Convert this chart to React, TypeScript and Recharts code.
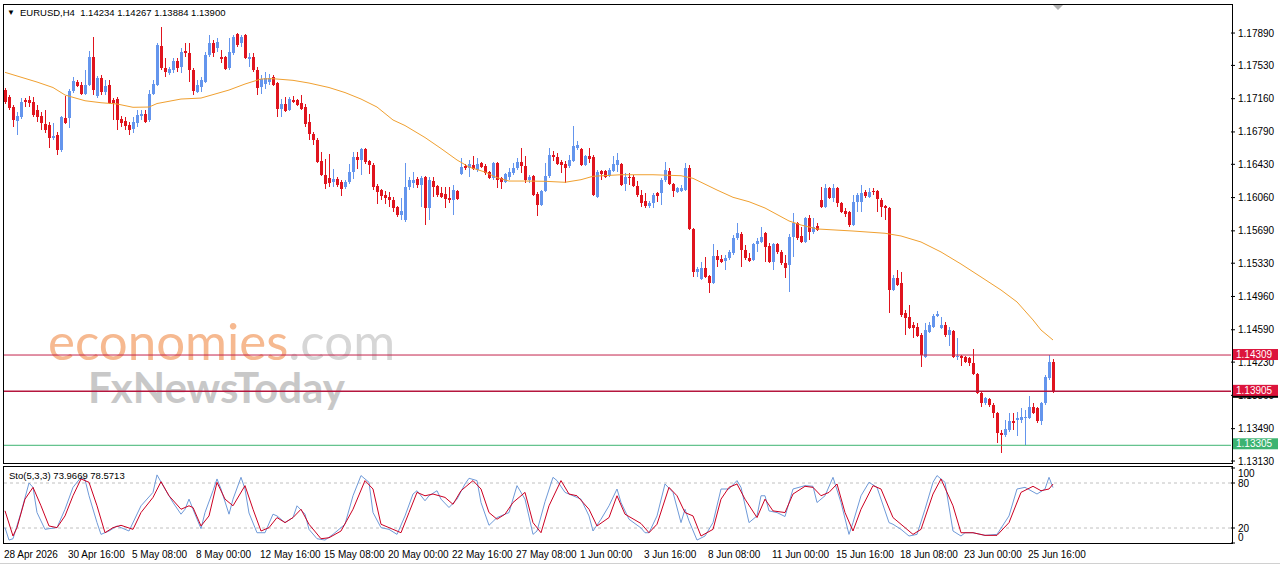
import React from 'react';
import { ComposedChart, Bar, Line, XAxis, YAxis, ReferenceLine } from 'recharts';

const FONT = '"Liberation Sans", Arial, sans-serif';
const BULL = '#6495ED';
const BEAR = '#E0141E';

// EURUSD H4 bars: [open, high, low, close]
const candles: number[][] = [
  [1.17257, 1.17279, 1.17101, 1.17124], [1.17179, 1.17201, 1.17035, 1.17057], [1.17068, 1.1709, 1.16846, 1.16924],
  [1.16913, 1.17013, 1.16757, 1.16968], [1.16957, 1.17168, 1.16935, 1.17124], [1.17146, 1.17168, 1.17068, 1.17124],
  [1.17146, 1.1719, 1.17068, 1.17113], [1.17124, 1.17179, 1.16957, 1.16979], [1.17035, 1.1709, 1.16901, 1.16957],
  [1.16968, 1.17013, 1.16813, 1.1689], [1.16879, 1.17035, 1.16779, 1.16813], [1.16868, 1.16901, 1.16613, 1.16724],
  [1.16724, 1.1689, 1.16701, 1.16746], [1.16757, 1.1679, 1.16535, 1.1659], [1.1659, 1.16968, 1.16568, 1.16957],
  [1.16946, 1.1719, 1.16879, 1.1689], [1.16946, 1.17268, 1.16835, 1.17246], [1.17246, 1.17401, 1.17224, 1.17357],
  [1.17346, 1.17368, 1.1729, 1.17301], [1.17313, 1.17346, 1.17201, 1.17213], [1.17213, 1.17479, 1.17201, 1.17313],
  [1.17313, 1.1769, 1.17301, 1.17624], [1.17624, 1.17846, 1.17201, 1.17257], [1.1719, 1.17413, 1.17168, 1.1739],
  [1.1739, 1.17424, 1.17201, 1.17235], [1.17235, 1.17368, 1.17201, 1.17301], [1.17313, 1.17368, 1.17101, 1.17113],
  [1.17146, 1.17168, 1.16924, 1.17113], [1.17157, 1.17179, 1.16813, 1.16924], [1.16935, 1.16968, 1.16846, 1.1689],
  [1.16913, 1.16957, 1.16813, 1.16857], [1.16868, 1.16901, 1.16757, 1.16813], [1.16824, 1.16957, 1.16779, 1.16901],
  [1.1689, 1.17035, 1.16846, 1.16979], [1.16968, 1.17035, 1.16924, 1.1699], [1.1699, 1.17035, 1.1689, 1.16901],
  [1.16924, 1.17257, 1.16901, 1.17213], [1.17213, 1.17368, 1.17201, 1.17324], [1.17313, 1.17779, 1.17301, 1.17757],
  [1.17746, 1.17957, 1.17479, 1.17501], [1.17501, 1.17613, 1.17401, 1.17457], [1.17446, 1.17513, 1.17424, 1.1749],
  [1.17479, 1.17613, 1.17446, 1.17579], [1.17579, 1.17613, 1.17457, 1.17501], [1.17513, 1.17724, 1.17446, 1.17679],
  [1.1769, 1.17779, 1.17624, 1.17668], [1.17668, 1.17779, 1.17346, 1.17479], [1.17479, 1.17501, 1.17201, 1.17246],
  [1.17235, 1.17368, 1.17224, 1.17313], [1.1729, 1.17401, 1.17235, 1.17368], [1.17346, 1.17679, 1.17335, 1.17646],
  [1.17646, 1.17868, 1.17624, 1.17779], [1.17779, 1.17813, 1.17624, 1.17668], [1.17724, 1.17835, 1.17679, 1.1779],
  [1.17624, 1.17701, 1.17557, 1.17601], [1.17624, 1.17635, 1.17479, 1.1749], [1.17501, 1.17835, 1.17479, 1.17679],
  [1.17668, 1.17868, 1.17646, 1.17846], [1.17879, 1.1789, 1.17735, 1.17757], [1.17779, 1.17868, 1.17735, 1.17846],
  [1.17868, 1.17879, 1.17601, 1.17613], [1.17601, 1.17668, 1.17513, 1.17624], [1.17624, 1.17668, 1.17457, 1.17479],
  [1.17479, 1.17513, 1.17201, 1.17279], [1.1729, 1.17424, 1.17213, 1.17379], [1.17324, 1.17457, 1.17268, 1.1739],
  [1.17346, 1.17435, 1.17313, 1.1739], [1.17401, 1.17424, 1.17301, 1.17313], [1.17335, 1.17346, 1.16957, 1.17046],
  [1.17046, 1.17157, 1.16957, 1.17101], [1.17101, 1.17179, 1.17013, 1.17024], [1.17035, 1.17179, 1.17024, 1.17157],
  [1.17146, 1.1719, 1.17113, 1.17124], [1.17146, 1.17157, 1.17079, 1.1709], [1.17113, 1.17201, 1.17035, 1.17046],
  [1.17068, 1.17101, 1.16846, 1.16879], [1.16901, 1.1699, 1.16701, 1.16768], [1.16768, 1.1679, 1.16646, 1.16701],
  [1.16701, 1.16724, 1.16446, 1.16457], [1.16468, 1.16568, 1.16301, 1.16313], [1.16313, 1.1649, 1.16157, 1.16213],
  [1.16279, 1.16546, 1.16179, 1.16224], [1.16235, 1.16379, 1.16179, 1.16268], [1.16268, 1.1629, 1.16179, 1.16201],
  [1.16235, 1.16257, 1.16079, 1.16157], [1.16179, 1.16257, 1.16157, 1.16235], [1.16235, 1.16435, 1.16213, 1.16346],
  [1.16346, 1.16568, 1.16268, 1.16513], [1.16513, 1.16568, 1.16379, 1.16479], [1.16479, 1.16613, 1.16313, 1.16601],
  [1.16601, 1.16613, 1.16435, 1.16457], [1.16468, 1.16479, 1.16324, 1.16424], [1.16424, 1.16446, 1.16146, 1.16179],
  [1.1619, 1.16213, 1.1599, 1.16124], [1.16146, 1.16157, 1.16035, 1.16079], [1.1609, 1.16135, 1.1599, 1.16057],
  [1.16068, 1.16124, 1.15957, 1.16035], [1.16035, 1.16068, 1.15901, 1.15946], [1.15957, 1.15968, 1.15846, 1.15868],
  [1.15868, 1.16057, 1.15813, 1.15913], [1.15813, 1.16446, 1.1579, 1.16179], [1.16179, 1.1629, 1.16146, 1.16257],
  [1.16224, 1.16346, 1.16168, 1.16257], [1.16268, 1.1629, 1.16168, 1.16201], [1.16201, 1.16301, 1.15957, 1.16279],
  [1.1629, 1.16301, 1.15757, 1.15946], [1.15946, 1.1629, 1.15813, 1.16257], [1.16246, 1.1629, 1.16068, 1.16179],
  [1.1619, 1.16201, 1.16068, 1.1609], [1.16113, 1.16179, 1.16057, 1.16068], [1.16101, 1.16179, 1.15946, 1.16046],
  [1.16057, 1.16179, 1.16001, 1.16035], [1.16035, 1.16201, 1.15868, 1.16146], [1.16135, 1.16146, 1.16035, 1.16046],
  [1.16324, 1.16501, 1.16313, 1.16401], [1.16413, 1.16435, 1.16368, 1.1639], [1.1639, 1.16479, 1.1629, 1.16435],
  [1.16424, 1.16524, 1.16368, 1.16379], [1.16368, 1.16501, 1.16346, 1.16435], [1.16446, 1.16457, 1.1639, 1.16401],
  [1.16413, 1.16435, 1.16313, 1.16335], [1.16346, 1.16357, 1.16268, 1.16279], [1.16279, 1.16457, 1.16257, 1.16446],
  [1.16446, 1.16457, 1.16168, 1.16257], [1.16279, 1.1629, 1.16157, 1.16235], [1.16235, 1.16335, 1.16224, 1.16324],
  [1.1629, 1.1639, 1.16257, 1.16346], [1.16335, 1.16446, 1.16313, 1.1639], [1.1639, 1.16501, 1.16368, 1.16457],
  [1.16457, 1.16613, 1.16335, 1.16413], [1.16413, 1.16524, 1.16224, 1.16257], [1.16257, 1.16313, 1.16224, 1.1629],
  [1.16301, 1.16313, 1.16079, 1.1609], [1.16101, 1.16124, 1.15857, 1.15979], [1.15979, 1.16146, 1.15968, 1.16135],
  [1.16135, 1.16446, 1.16124, 1.16301], [1.16301, 1.16613, 1.16279, 1.16535], [1.16535, 1.16579, 1.16468, 1.16513],
  [1.16513, 1.16557, 1.16424, 1.16435], [1.16457, 1.16479, 1.16335, 1.16424], [1.16435, 1.16468, 1.16224, 1.1639],
  [1.16413, 1.16535, 1.1639, 1.16479], [1.16468, 1.16857, 1.16457, 1.16635], [1.16613, 1.1669, 1.1659, 1.16646],
  [1.16601, 1.16613, 1.16413, 1.16424], [1.16424, 1.16535, 1.16413, 1.16524], [1.16524, 1.16613, 1.16446, 1.1649],
  [1.16513, 1.16535, 1.16079, 1.1609], [1.16068, 1.16368, 1.16057, 1.16346], [1.16357, 1.16368, 1.16257, 1.16324],
  [1.16357, 1.16368, 1.16279, 1.1629], [1.16301, 1.1639, 1.1629, 1.16368], [1.16357, 1.16524, 1.16346, 1.16435],
  [1.16424, 1.16557, 1.16346, 1.16479], [1.16435, 1.16446, 1.1619, 1.16201], [1.16213, 1.16335, 1.16135, 1.1629],
  [1.1629, 1.16335, 1.16201, 1.16279], [1.1629, 1.16313, 1.16179, 1.1619], [1.1619, 1.16246, 1.16068, 1.1609],
  [1.1609, 1.16146, 1.15957, 1.16002], [1.16024, 1.16113, 1.15946, 1.15968], [1.15968, 1.16024, 1.15946, 1.16002],
  [1.16002, 1.16113, 1.15946, 1.1609], [1.16113, 1.16124, 1.16013, 1.16079], [1.16113, 1.16279, 1.15979, 1.16257],
  [1.16257, 1.16457, 1.16235, 1.16368], [1.16357, 1.1639, 1.16201, 1.16213], [1.16213, 1.16224, 1.16068, 1.16135],
  [1.16124, 1.16179, 1.16113, 1.16168], [1.16135, 1.16201, 1.16124, 1.16168], [1.16146, 1.16446, 1.16135, 1.1639],
  [1.1639, 1.16424, 1.15701, 1.15713], [1.15713, 1.15724, 1.15179, 1.15235], [1.15235, 1.1529, 1.15179, 1.15268],
  [1.15157, 1.15346, 1.15146, 1.15279], [1.15279, 1.15401, 1.15168, 1.15179], [1.1519, 1.15201, 1.15001, 1.15113],
  [1.15113, 1.15546, 1.15101, 1.15413], [1.15413, 1.15479, 1.1529, 1.15368], [1.15379, 1.15424, 1.15335, 1.15346],
  [1.15357, 1.15424, 1.15257, 1.1539], [1.1539, 1.15479, 1.15368, 1.15457], [1.15446, 1.15646, 1.15424, 1.15613],
  [1.15613, 1.15779, 1.1559, 1.15668], [1.15657, 1.15679, 1.1529, 1.15479], [1.15479, 1.15535, 1.15368, 1.1539],
  [1.1539, 1.15446, 1.15346, 1.15357], [1.15368, 1.15557, 1.15357, 1.15546], [1.15546, 1.15613, 1.15457, 1.15579],
  [1.15568, 1.15735, 1.15557, 1.15624], [1.15668, 1.15679, 1.15346, 1.15513], [1.15524, 1.15557, 1.15335, 1.15346],
  [1.15346, 1.15557, 1.15257, 1.15546], [1.15546, 1.15557, 1.15435, 1.15457], [1.15457, 1.15479, 1.15313, 1.15335],
  [1.15335, 1.15424, 1.15168, 1.15279], [1.15313, 1.15657, 1.15013, 1.15624], [1.15624, 1.1589, 1.15401, 1.15779],
  [1.15779, 1.1579, 1.1559, 1.15613], [1.15635, 1.15735, 1.15557, 1.15568], [1.15568, 1.15846, 1.15557, 1.15835],
  [1.15835, 1.15868, 1.1559, 1.15679], [1.15679, 1.15835, 1.15657, 1.15735], [1.15746, 1.15779, 1.1569, 1.15701],
  [1.16035, 1.16179, 1.15946, 1.15957], [1.15957, 1.16213, 1.15946, 1.16168], [1.16168, 1.16179, 1.16046, 1.16057],
  [1.16057, 1.16213, 1.16013, 1.16168], [1.16168, 1.16179, 1.15957, 1.16002], [1.16002, 1.16013, 1.1589, 1.15901],
  [1.15913, 1.15946, 1.15846, 1.15879], [1.15901, 1.15913, 1.15735, 1.15757], [1.15757, 1.1609, 1.15746, 1.16013],
  [1.16013, 1.16113, 1.15901, 1.1609], [1.16013, 1.16201, 1.15901, 1.16113], [1.16124, 1.16146, 1.16057, 1.16079],
  [1.16068, 1.16168, 1.16057, 1.16124], [1.16135, 1.16168, 1.1609, 1.16124], [1.16135, 1.16146, 1.15901, 1.16046],
  [1.16035, 1.16057, 1.15846, 1.15957], [1.15968, 1.15979, 1.15813, 1.15946], [1.15946, 1.15957, 1.14779, 1.15035],
  [1.15035, 1.15201, 1.15024, 1.15168], [1.15168, 1.15257, 1.15079, 1.1509], [1.15113, 1.15235, 1.14735, 1.14757],
  [1.14779, 1.14813, 1.14535, 1.14724], [1.14735, 1.14868, 1.14601, 1.14613], [1.14646, 1.14679, 1.14501, 1.14613],
  [1.14624, 1.14668, 1.14513, 1.14524], [1.14535, 1.14557, 1.14179, 1.14313], [1.1429, 1.14668, 1.14279, 1.1459],
  [1.14568, 1.14679, 1.14557, 1.14646], [1.14624, 1.14768, 1.14613, 1.14746], [1.14746, 1.14801, 1.14735, 1.14768],
  [1.14613, 1.14735, 1.14601, 1.14646], [1.14646, 1.14679, 1.14513, 1.14535], [1.14535, 1.14624, 1.14413, 1.1459],
  [1.14579, 1.1459, 1.14279, 1.1429], [1.1429, 1.14501, 1.14257, 1.14301], [1.14301, 1.14313, 1.1419, 1.14279],
  [1.1429, 1.14301, 1.14224, 1.14235], [1.14279, 1.1429, 1.1419, 1.14224], [1.14224, 1.14379, 1.1409, 1.14101],
  [1.14101, 1.14113, 1.13879, 1.1389], [1.1389, 1.13901, 1.13735, 1.13779], [1.13779, 1.13846, 1.13757, 1.13835],
  [1.13824, 1.13835, 1.13735, 1.13757], [1.13757, 1.13779, 1.13613, 1.13668], [1.13668, 1.13679, 1.13335, 1.13446],
  [1.13446, 1.13479, 1.13224, 1.13424], [1.13424, 1.1359, 1.13401, 1.1349], [1.13479, 1.13668, 1.13457, 1.13579],
  [1.13579, 1.13668, 1.13479, 1.13557], [1.1359, 1.13679, 1.13413, 1.13613], [1.1359, 1.13724, 1.13557, 1.13624],
  [1.13613, 1.13701, 1.13313, 1.13624], [1.13613, 1.13857, 1.13601, 1.13735], [1.13735, 1.13779, 1.13657, 1.13668],
  [1.13724, 1.13735, 1.13557, 1.13579], [1.13579, 1.1379, 1.13535, 1.13779], [1.13779, 1.1409, 1.13757, 1.14068],
  [1.14057, 1.14309, 1.14032, 1.14234], [1.14234, 1.14267, 1.13884, 1.139],
];

// moving average, [bar index, value]
const maPoints: number[][] = [
  [0, 1.17453], [8, 1.17345], [12, 1.17284], [15, 1.17201], [17, 1.17175], [20, 1.17137], [24, 1.17115],
  [28, 1.17101], [32, 1.17064], [36, 1.17067], [38, 1.17106], [44, 1.17156], [49, 1.17167], [56, 1.17256],
  [60, 1.17323], [64, 1.17379], [67, 1.17382], [72, 1.17364], [76, 1.17334], [81, 1.17284], [85, 1.17228],
  [89, 1.17156], [93, 1.17067], [97, 1.16923], [100, 1.16861], [105, 1.16728], [109, 1.16606], [113, 1.16478],
  [116, 1.164], [120, 1.16344], [123, 1.16281], [126, 1.16244], [130, 1.16244], [135, 1.16241], [140, 1.1623],
  [144, 1.16259], [147, 1.16297], [154, 1.16314], [162, 1.16314], [169, 1.16303], [172, 1.16274], [178, 1.16144],
  [182, 1.16063], [186, 1.16014], [190, 1.15944], [196, 1.158], [199, 1.15755], [203, 1.15711], [212, 1.15688],
  [220, 1.15663], [224, 1.15633], [229, 1.15566], [234, 1.15455], [239, 1.15321], [244, 1.15177], [249, 1.15032],
  [253, 1.14899], [257, 1.14699], [259, 1.14587], [262, 1.14476],
];

// Stochastic (5,3,3) main line, [bar index, value]
const stochMain: number[][] = [
  [0, 20.5], [1, 3.9], [2, 5.7], [4, 40.6], [6, 80], [7, 74.2], [8, 40.6], [10, 18.2], [11, 19.1], [13, 20.5],
  [15, 45], [17, 74.2], [19, 87.6], [20, 84.5], [21, 63], [23, 27.2], [24, 11.5], [26, 16], [28, 22.7], [29, 20.5],
  [31, 16], [34, 49.6], [37, 67.5], [38, 90.8], [40, 72], [42, 54], [44, 38.4], [45, 45], [46, 58.5], [47, 45],
  [49, 19.1], [50, 40.6], [52, 69.7], [53, 85.4], [54, 72], [56, 38.4], [57, 58.5], [59, 87.6], [60, 72], [61, 40],
  [63, 13.7], [65, 13.7], [67, 38.4], [68, 36.1], [70, 27.2], [72, 33.9], [73, 49.6], [75, 38.4], [76, 18.2],
  [78, 5.7], [80, 3.9], [82, 11.5], [85, 25], [87, 63], [89, 89.9], [91, 80.9], [92, 40.6], [94, 20.5], [96, 18.2],
  [98, 11.5], [100, 36.1], [102, 65.3], [103, 69.7], [105, 56.3], [106, 63], [108, 69.7], [109, 58.5], [111, 47.3],
  [113, 58.5], [115, 78.7], [116, 86.3], [118, 83.2], [119, 54], [121, 23.6], [123, 33.9], [124, 36.1], [126, 40.6],
  [128, 76.5], [130, 58.5], [132, 11.5], [133, 16], [135, 55], [137, 87.6], [138, 83.2], [140, 67.5], [142, 63],
  [144, 58.5], [146, 36.1], [147, 16], [149, 31.7], [151, 49.6], [153, 72], [154, 54], [156, 31.7], [159, 20],
  [160, 13.7], [161, 13.7], [163, 36.1], [165, 78.7], [167, 67.5], [169, 27.2], [170, 45], [171, 29.4], [173, 3.9],
  [175, 9.3], [177, 27.2], [179, 72], [181, 72], [183, 83.2], [184, 74.2], [186, 27.2], [188, 36.1], [189, 63],
  [190, 63], [191, 42.8], [193, 40.6], [195, 35.3], [197, 72], [200, 76.5], [202, 75.6], [203, 54], [205, 63],
  [207, 87.6], [209, 54], [211, 11.5], [212, 27.2], [214, 63], [216, 80.9], [218, 74.2], [221, 27.2], [222, 25],
  [224, 18.2], [226, 9.3], [228, 11.5], [230, 45], [232, 80.9], [233, 89.9], [235, 80.9], [237, 16], [239, 9.3],
  [240, 13.7], [242, 13.7], [245, 10.2], [248, 11.5], [251, 36.1], [253, 72], [255, 74.2], [258, 65.3], [260, 72],
  [261, 87.6], [262, 73.97],
];

// Stochastic signal line, [bar index, value]
const stochSignal: number[][] = [
  [0, 42.9], [2, 9.3], [3, 20.5], [5, 58.5], [7, 74.2], [9, 49.6], [11, 22.7], [13, 20.5], [15, 36.1], [17, 63],
  [19, 85.4], [21, 80.9], [23, 49.6], [25, 13.7], [27, 20.5], [29, 23.6], [32, 18.2], [34, 40.6], [37, 60.8],
  [39, 81.8], [41, 63], [44, 45], [46, 49.6], [47, 47.3], [49, 22.7], [51, 36.1], [53, 80.9], [55, 58.5], [57, 49.6],
  [60, 76.5], [62, 45], [64, 16], [66, 20.5], [68, 33.9], [70, 27.2], [72, 33.9], [74, 45], [76, 25], [79, 5.7],
  [81, 7], [84, 16], [87, 45], [90, 83.2], [92, 72], [94, 25], [96, 20.5], [99, 13.7], [101, 40.6], [103, 67.5],
  [105, 63], [107, 65.3], [110, 60.8], [112, 51.6], [114, 69.7], [117, 83.2], [119, 72], [121, 40.6], [123, 31.7],
  [125, 38.4], [127, 54], [130, 67.5], [132, 27.2], [134, 13.7], [136, 49.6], [139, 83.2], [141, 65.3], [143, 63],
  [146, 45], [148, 22.7], [151, 33.9], [153, 63], [155, 38.4], [159, 26], [161, 13.7], [163, 25], [166, 74.2],
  [168, 63], [170, 40.6], [172, 36.1], [174, 9.3], [177, 18.2], [179, 58.5], [181, 74.2], [183, 78.7], [185, 58.5],
  [188, 33.9], [190, 58.5], [192, 42.8], [195, 40.6], [197, 65.3], [200, 75.6], [202, 74.2], [204, 63], [206, 67.5],
  [208, 78.7], [210, 40.6], [212, 16], [214, 45], [217, 76.5], [219, 72], [222, 33.9], [225, 20.5], [227, 11.5],
  [229, 18.2], [232, 65.3], [234, 85.4], [237, 49.6], [239, 13.7], [242, 13.7], [245, 10.2], [248, 10.2],
  [251, 27.2], [254, 67.5], [257, 75.6], [259, 69.7], [261, 72], [262, 78.57],
];

const timeLabels = [
  '28 Apr 2026', '30 Apr 16:00', '5 May 08:00', '8 May 00:00', '12 May 16:00', '15 May 08:00',
  '20 May 00:00', '22 May 16:00', '27 May 08:00', '1 Jun 00:00', '3 Jun 16:00', '8 Jun 08:00',
  '11 Jun 00:00', '15 Jun 16:00', '18 Jun 08:00', '23 Jun 00:00', '25 Jun 16:00',
];
const timeTickIdx = [0, 16, 32, 48, 64, 80, 96, 112, 128, 144, 160, 176, 192, 208, 224, 240, 256];

const priceTicks = [1.1789, 1.1753, 1.1716, 1.1679, 1.1643, 1.1606, 1.1569, 1.1533, 1.1496, 1.1459, 1.1423, 1.1386, 1.1349, 1.1313];
const priceDomain = [1.13108, 1.18213];
const stochTicks = [0, 20, 80, 100];

const resistance = 1.14309;
const support = 1.13905;
const bid = 1.139;
const lowLevel = 1.13305;

const SLOTS = 307; // bars plus empty right shift

const rows: any[] = Array.from({ length: SLOTS }, (_, i) => {
  const c = candles[i];
  const row: any = { i };
  if (c) {
    row.open = c[0];
    row.high = c[1];
    row.low = c[2];
    row.close = c[3];
    row.range = [Math.min(c[2], c[0], c[3]), Math.max(c[1], c[0], c[3])];
  }
  return row;
});
maPoints.forEach(([i, v]) => { rows[i].ma = v; });
stochMain.forEach(([i, v]) => { rows[i].k = v; });
stochSignal.forEach(([i, v]) => { rows[i].d = v; });

const Candle = (props: any) => {
  const { x, y, width, height, payload } = props;
  if (!payload || payload.open == null) return null;
  const { open, close } = payload;
  const [lo, hi] = payload.range;
  const h = Math.abs(height);
  const top = Math.min(y, y + height);
  const k = h / (hi - lo || 1e-9);
  const color = close >= open ? BULL : BEAR;
  const cx = Math.floor(x + width / 2);
  const bTop = Math.round(top + (hi - Math.max(open, close)) * k);
  const bBot = Math.round(top + (hi - Math.min(open, close)) * k);
  const t = Math.round(top);
  return (
    <g>
      <rect x={cx} y={t} width={1} height={Math.max(1, Math.round(top + h) - t)} fill={color} />
      <rect x={cx - 1} y={bTop} width={3} height={Math.max(1, bBot - bTop)} fill={color} />
    </g>
  );
};

const priceTag = (text: string, bg: string, dy: number) => (props: any) => {
  const vb = props.viewBox || {};
  const right = (vb.x || 0) + (vb.width || 0);
  return (
    <g>
      <rect x={right + 2} y={vb.y + dy} width={45} height={11} fill={bg} />
      <text x={right + 5} y={vb.y + dy + 5.5} dy="0.36em" fontSize={10} fontFamily={FONT} fill="#fff">{text}</text>
    </g>
  );
};

const TimeTick = (props: any) => {
  const { x, y, payload } = props;
  const label = timeLabels[timeTickIdx.indexOf(Number(payload.value))];
  return (
    <text x={x - 1} y={y} dy="0.71em" fontSize={10} fontFamily={FONT} fill="#000" textAnchor="start">{label}</text>
  );
};

const StochTick = (props: any) => {
  const { x, y, payload } = props;
  const v = payload.value;
  const shift = v === 100 ? 5 : v === 0 ? -6 : 0;
  return (
    <text x={x} y={y + shift} dy="0.355em" fontSize={10} fontFamily={FONT} fill="#000" textAnchor="start">{v}</text>
  );
};

const MAIN_MARGIN = { top: 4, right: 0, bottom: 7, left: 3 };

export default function App() {
  return (
    <div style={{ position: 'absolute', left: 0, top: 0, width: 1280, height: 567, background: '#fff', overflow: 'hidden', fontFamily: FONT }}>
      <svg width={1280} height={567} style={{ position: 'absolute', left: 0, top: 0 }}>
        <text x={48} y={360} fontSize={51} fontFamily="Lato, sans-serif" fill="#f6b990">economies<tspan fill="#d6d6d6">.com</tspan></text>
        <text x={88} y={403} fontSize={42} fontWeight={700} fontFamily="Lato, sans-serif" fill="#c8c8c8">FxNewsToday</text>
      </svg>

      <div style={{ position: 'absolute', left: 0, top: 0 }}>
        <ComposedChart width={1280} height={470} data={rows} margin={MAIN_MARGIN}>
          <XAxis dataKey="i" type="category" scale="band" hide />
          <YAxis
            orientation="right"
            type="number"
            domain={priceDomain}
            ticks={priceTicks}
            interval={0}
            width={49}
            allowDataOverflow
            axisLine={false}
            tickLine={{ stroke: '#000' }}
            tickSize={4}
            tickMargin={3}
            tick={{ fontSize: 10, fill: '#000', fontFamily: FONT }}
            tickFormatter={(v: number) => v.toFixed(5)}
          />
          <Bar dataKey="range" barSize={3} shape={Candle} isAnimationActive={false} />
          <Line dataKey="ma" type="linear" stroke="#f0a030" strokeWidth={1} dot={false} activeDot={false} connectNulls isAnimationActive={false} />
          <ReferenceLine y={resistance} stroke="#c4234c" strokeWidth={1} />
          <ReferenceLine y={support} stroke="#b5163e" strokeWidth={1.5} />
          <ReferenceLine y={lowLevel} stroke="#3cb371" strokeWidth={1} />
        </ComposedChart>
      </div>

      {/* price tags of the horizontal levels, drawn over the axis labels */}
      <div style={{ position: 'absolute', left: 0, top: 0, pointerEvents: 'none' }}>
        <ComposedChart width={1280} height={470} data={rows} margin={MAIN_MARGIN}>
          <XAxis dataKey="i" type="category" scale="band" hide />
          <YAxis orientation="right" type="number" domain={priceDomain} width={49} allowDataOverflow axisLine={false} tickLine={false} tick={false} />
          <Line dataKey="ma" stroke="none" dot={false} activeDot={false} connectNulls isAnimationActive={false} />
          <ReferenceLine y={resistance} stroke="none" label={priceTag('1.14309', '#dc143c', -6)} />
          <ReferenceLine y={bid} stroke="none" label={priceTag('', '#000', -5)} />
          <ReferenceLine y={support} stroke="none" label={priceTag('1.13905', '#dc143c', -6.5)} />
          <ReferenceLine y={lowLevel} stroke="none" label={priceTag('1.13305', '#3cb371', -7)} />
        </ComposedChart>
      </div>

      <div style={{ position: 'absolute', left: 0, top: 464 }}>
        <ComposedChart width={1280} height={103} data={rows} margin={{ top: 4, right: 0, bottom: 0, left: 3 }}>
          <XAxis dataKey="i" type="category" scale="band" height={24} ticks={timeTickIdx} interval={0} axisLine={false} tickLine={false} tick={<TimeTick />} />
          <YAxis orientation="right" type="number" domain={[0, 100]} ticks={stochTicks} interval={0} width={49} axisLine={false} tickSize={4} tickMargin={3} tickLine={{ stroke: '#000' }} tick={<StochTick />} />
          <ReferenceLine y={80} stroke="#c0c0c0" strokeDasharray="3 3" />
          <ReferenceLine y={20} stroke="#c0c0c0" strokeDasharray="3 3" />
          <Line dataKey="k" type="linear" stroke="#6f9ad8" strokeWidth={1} dot={false} activeDot={false} connectNulls isAnimationActive={false} />
          <Line dataKey="d" type="linear" stroke="#cc0022" strokeWidth={1} dot={false} activeDot={false} connectNulls isAnimationActive={false} />
        </ComposedChart>
      </div>

      <div style={{ position: 'absolute', left: 3, top: 4, width: 1230, height: 460, border: '1px solid #000', boxSizing: 'border-box', pointerEvents: 'none' }} />
      <div style={{ position: 'absolute', left: 3, top: 466, width: 1230, height: 78, border: '1px solid #000', boxSizing: 'border-box', pointerEvents: 'none' }} />
      <div style={{ position: 'absolute', left: 0, top: 563, width: 1280, height: 1, background: '#d0d0d0' }} />

      <svg width={1280} height={567} style={{ position: 'absolute', left: 0, top: 0, pointerEvents: 'none' }}>
        <text x={7} y={15} fontSize={8} fontFamily={FONT} fill="#000">▼</text>
        <text x={20} y={15.5} fontSize={9.5} fontFamily={FONT} fill="#000" style={{ whiteSpace: 'pre' }}>EURUSD,H4  1.14234 1.14267 1.13884 1.13900</text>
        <polygon points="1053,5 1063,5 1058,10" fill="#b0b0b0" />
        <text x={9} y={479} fontSize={9.5} fontFamily={FONT} fill="#000">Sto(5,3,3) 73.9669 78.5713</text>
      </svg>
    </div>
  );
}
